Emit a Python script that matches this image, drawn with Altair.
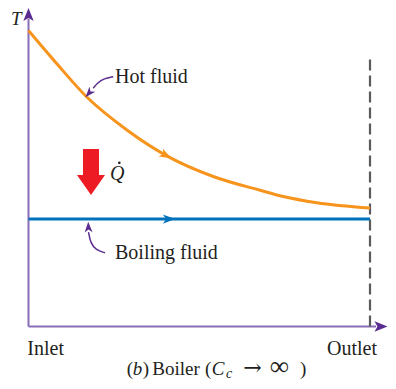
import altair as alt
import pandas as pd

# ---- data (position along exchanger 0=inlet, 1=outlet; temperature in arbitrary units)
hot_x = [0.0, 0.085, 0.170, 0.288, 0.409, 0.543, 0.676, 0.746, 0.844, 1.0]
hot_T = [100.0, 88.5, 77.6, 66.4, 57.4, 50.6, 46.1, 43.9, 41.8, 40.0]
boil_x = [0.0, 1.0]
boil_T = [36.3, 36.3]

labels_axis = ["Inlet", "Outlet"]

ORANGE = "#F7941D"
BLUE = "#0072BC"
AXIS = "#8A6DB8"
ANN = "#5B2C8F"
RED = "#ED1C24"
TXT = "#231F20"
SERIF = "Liberation Serif"

XS = alt.Scale(domain=[-0.06003, 1.05271], nice=False, zero=False)
YS = alt.Scale(domain=[-18.41, 107.6], nice=False, zero=False)


def enc(**kw):
    base = dict(
        x=alt.X("x:Q", scale=XS, axis=None),
        y=alt.Y("T:Q", scale=YS, axis=None),
    )
    base.update(kw)
    return base


def df(xs, ts, **cols):
    d = {"x": xs, "T": ts}
    d.update(cols)
    return pd.DataFrame(d)


layers = []

# axes lines
layers.append(alt.Chart(df([0, 0], [0, 104])).mark_line(color=AXIS, strokeWidth=2).encode(**enc()))
layers.append(alt.Chart(df([0, 1.0176], [0, 0])).mark_line(color=AXIS, strokeWidth=2).encode(**enc()))
# axis arrowheads
UP = "M0,-1L0.8,1L0,0.55L-0.8,1Z"
RIGHT = "M1,0L-1,-0.8L-0.55,0L-1,0.8Z"
layers.append(alt.Chart(df([0], [105.4])).mark_point(shape=UP, filled=True, color=ANN, size=169, opacity=1).encode(**enc()))
layers.append(alt.Chart(df([1.0322], [0])).mark_point(shape=RIGHT, filled=True, color=ANN, size=169, opacity=1).encode(**enc()))

# outlet dashed line
layers.append(alt.Chart(df([1, 1], [0, 90.3])).mark_line(color="#5A5A5A", strokeWidth=2.2, strokeDash=[11, 5]).encode(**enc()))

# hot fluid and boiling fluid
layers.append(alt.Chart(df(hot_x, hot_T)).mark_line(color=ORANGE, strokeWidth=3, interpolate="monotone").encode(**enc()))
layers.append(alt.Chart(df(boil_x, boil_T)).mark_line(color=BLUE, strokeWidth=3).encode(**enc()))

# flow direction arrowheads
FLOW = "M1,0L-1,-0.75L-0.45,0L-1,0.75Z"
layers.append(alt.Chart(df([0.4026], [57.8])).mark_point(shape=FLOW, filled=True, color=ORANGE, size=150, angle=28, opacity=1).encode(**enc()))
layers.append(alt.Chart(df([0.4114], [36.3])).mark_point(shape=FLOW, filled=True, color=BLUE, size=150, angle=0, opacity=1).encode(**enc()))

# heat transfer arrow
QARROW = "M-0.348,-1L0.348,-1L0.348,0.13L0.609,0.13L0,1L-0.609,0.13L-0.348,0.13Z"
layers.append(alt.Chart(df([0.183], [52.2])).mark_point(shape=QARROW, filled=True, color=RED, size=2116, opacity=1).encode(**enc()))
layers.append(alt.Chart(df([0.2387], [49.5], t=["Q"])).mark_text(font=SERIF, fontStyle="italic", fontSize=20, align="left", baseline="alphabetic", color=TXT).encode(**enc(text="t:N")))
layers.append(alt.Chart(df([0.2659], [55.3])).mark_point(shape="circle", filled=True, color=TXT, size=7, opacity=1).encode(**enc()))

# annotation leaders
hot_lead = df([0.2483, 0.2211, 0.2020, 0.1897], [84.4, 83.8, 82.3, 80.5], o=[0, 1, 2, 3])
layers.append(alt.Chart(hot_lead).mark_line(color=ANN, strokeWidth=1.5, interpolate="basis").encode(**enc(order="o:Q")))
layers.append(alt.Chart(df([0.177], [78.8])).mark_point(shape=FLOW, filled=True, color=ANN, size=110, angle=131, opacity=1).encode(**enc()))
boil_lead = df([0.224, 0.1977, 0.1816, 0.1757], [24.9, 25.8, 28.2, 31.9], o=[0, 1, 2, 3])
layers.append(alt.Chart(boil_lead).mark_line(color=ANN, strokeWidth=1.5, interpolate="basis").encode(**enc(order="o:Q")))
layers.append(alt.Chart(df([0.1754], [33.6])).mark_point(shape=FLOW, filled=True, color=ANN, size=110, angle=268, opacity=1).encode(**enc()))

# labels
reg = dict(font=SERIF, fontSize=20, baseline="alphabetic", color=TXT)
layers.append(alt.Chart(df([0.2533, 0.2533], [82.2, 22.8], t=["Hot fluid", "Boiling fluid"])).mark_text(align="left", **reg).encode(**enc(text="t:N")))
layers.append(alt.Chart(df([-0.0035], [-9.63], t=[labels_axis[0]])).mark_text(align="left", **reg).encode(**enc(text="t:N")))
layers.append(alt.Chart(df([1.0205], [-9.63], t=[labels_axis[1]])).mark_text(align="right", **reg).encode(**enc(text="t:N")))
layers.append(alt.Chart(df([-0.0512], [101.9], t=["T"])).mark_text(align="left", fontStyle="italic", font=SERIF, fontSize=19, baseline="alphabetic", color=TXT).encode(**enc(text="t:N")))

# caption: (b) Boiler (C_c -> inf)
CAPY = -16.39
cap = dict(font=SERIF, fontSize=19, baseline="alphabetic", color=TXT, align="left")
layers.append(alt.Chart(df([0.2876, 0.3344, 0.3624, 0.5172, 0.795], [CAPY] * 5,
                           t=["(", ")", "Boiler", "(", ")"])).mark_text(**cap).encode(**enc(text="t:N")))
layers.append(alt.Chart(df([0.3051, 0.5365], [CAPY, CAPY], t=["b", "C"])).mark_text(fontStyle="italic", **cap).encode(**enc(text="t:N")))
layers.append(alt.Chart(df([0.5783], [-17.23], t=["c"])).mark_text(font=SERIF, fontSize=14, fontStyle="italic", baseline="alphabetic", color=TXT, align="left").encode(**enc(text="t:N")))
layers.append(alt.Chart(df([0.629], [CAPY], t=["\u2192"])).mark_text(font="DejaVu Serif", fontSize=22, baseline="alphabetic", color=TXT, align="left").encode(**enc(text="t:N")))
layers.append(alt.Chart(df([0.7066], [CAPY], t=["\u221e"])).mark_text(font=SERIF, fontSize=27, baseline="alphabetic", color=TXT, align="left").encode(**enc(text="t:N")))

chart = alt.layer(*layers).properties(
    width=380, height=373, padding=0,
    autosize=alt.AutoSizeParams(type="none"),
).configure_view(stroke=None)

chart.save("out.html", embed_options={"renderer": "svg", "actions": False})
